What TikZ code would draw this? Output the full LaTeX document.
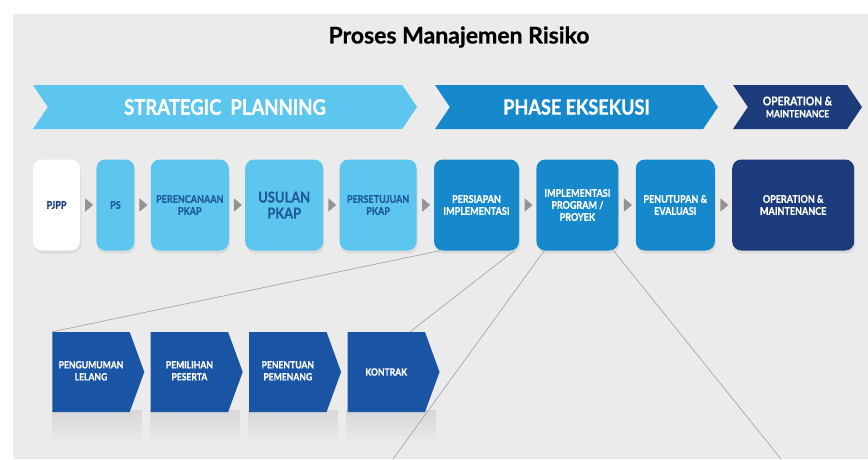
\documentclass[tikz,border=0pt]{standalone}
\usepackage{fontspec}
\setmainfont{Lato}[FakeStretch=0.86, BoldFeatures={FakeBold=0.8}]
\newfontfamily\titlefont{Lato}[BoldFeatures={FakeBold=0.6}]
\usetikzlibrary{positioning,shapes.symbols,shapes.geometric,shadows,fadings}
\definecolor{skyblue}{HTML}{5CC6EF}
\definecolor{midblue}{HTML}{1589CB}
\definecolor{navy}{HTML}{1B3B7A}
\definecolor{royal}{HTML}{1A55A5}
\definecolor{panel}{HTML}{EBEBEB}
\definecolor{textblue}{HTML}{1F5C9E}
\begin{document}
\begin{tikzpicture}[x=1pt, y=-1pt, font=\bfseries, line join=round, line cap=round]
	\tikzset{
		stepbox/.style={rounded corners=9pt, minimum height=91pt, inner sep=1pt, align=center, text=white, font=\bfseries\fontsize{10.5}{12}\selectfont, drop shadow={opacity=0.15, shadow xshift=1pt, shadow yshift=-3pt}},
		banner/.style={signal, signal from=west, signal to=east, signal pointer angle=112, minimum height=44pt, inner sep=0pt, text=white, align=center},
		tender/.style={signal, signal to=east, signal pointer angle=140, minimum height=80pt, minimum width=92pt, inner sep=0pt, fill=royal, text=white, font=\bfseries\fontsize{10}{12}\selectfont},
		tri/.style={isosceles triangle, isosceles triangle apex angle=80, inner sep=0pt, minimum height=8pt, fill=gray!85},
		link/.style={draw=gray!75, line width=0.6pt}
	}
	\useasboundingbox (0,0) rectangle (868,459);
	\fill[panel] (13,14) rectangle (868,459);
	\node (title) at (459,37) {\titlefont\fontsize{23}{25}\selectfont Proses Manajemen Risiko};
	\node[banner, fill=skyblue, minimum width=384pt] (sp) at (225,107) {\fontsize{21.5}{23}\selectfont STRATEGIC\ \ PLANNING};
	\node[banner, fill=midblue, minimum width=283pt] (pe) at (576.5,107) {\fontsize{21}{23}\selectfont PHASE EKSEKUSI};
	\node[banner, fill=navy, minimum width=129pt] (om) at (797.5,107) {\fontsize{12}{13.5}\selectfont OPERATION \&\\ MAINTENANCE};
	\node[stepbox, fill=white, text=navy, minimum width=47pt] (pjpp) at (56.5,205) {PJPP};
	\node[stepbox, fill=skyblue, text=textblue, minimum width=38pt, right=16pt of pjpp] (ps) {PS};
	\node[stepbox, fill=skyblue, text=textblue, minimum width=78pt, right=16pt of ps] (perencanaan) {PERENCANAAN\\ PKAP};
	\node[stepbox, fill=skyblue, text=textblue, minimum width=78pt, font=\bfseries\fontsize{15}{16}\selectfont, right=16pt of perencanaan] (usulan) {USULAN\\ PKAP};
	\node[stepbox, fill=skyblue, text=textblue, minimum width=77pt, right=16pt of usulan] (persetujuan) {PERSETUJUAN\\ PKAP};
	\node[stepbox, fill=midblue, minimum width=85pt, right=17pt of persetujuan] (persiapan) {PERSIAPAN\\ IMPLEMENTASI};
	\node[stepbox, fill=midblue, minimum width=82pt, right=17pt of persiapan] (impl) {IMPLEMENTASI\\ PROGRAM /\\ PROYEK};
	\node[stepbox, fill=midblue, minimum width=79pt, right=17pt of impl] (penutupan) {PENUTUPAN \&\\ EVALUASI};
	\node[stepbox, fill=navy, minimum width=122pt, right=17pt of penutupan] (operation) {OPERATION \&\\ MAINTENANCE};
	\foreach \a/\b in {pjpp/ps, ps/perencanaan, perencanaan/usulan, usulan/persetujuan, persetujuan/persiapan, persiapan/impl, impl/penutupan, penutupan/operation}
		\path (\a.east) -- (\b.west) node[midway, tri] {};
	\foreach \x in {52,150,248,346}
		\fill[gray, opacity=0.18, path fading=south] (\x,410) rectangle ++(90,32);
	\node[tender] (pengumuman) at (91,372) {\begin{tabular}{@{}c@{}}PENGUMUMAN\\ LELANG\end{tabular}};
	\node[tender, right=6pt of pengumuman] (pemilihan) {\begin{tabular}{@{}c@{}}PEMILIHAN\\ PESERTA\end{tabular}};
	\node[tender, right=6pt of pemilihan] (penentuan) {\begin{tabular}{@{}c@{}}PENENTUAN\\ PEMENANG\end{tabular}};
	\node[tender, right=6pt of penentuan] (kontrak) {KONTRAK};
	\coordinate (cutl) at (393,459);
	\coordinate (cutr) at (781,459);
	\draw[link] ([xshift=6pt]persiapan.south west) -- (pengumuman.north west);
	\draw[link] ([xshift=-5pt]persiapan.south east) -- ([xshift=-15pt]kontrak.north east);
	\draw[link] ([xshift=8pt]impl.south west) -- (cutl);
	\draw[link] ([xshift=-5pt]impl.south east) -- (cutr);
\end{tikzpicture}
\end{document}
